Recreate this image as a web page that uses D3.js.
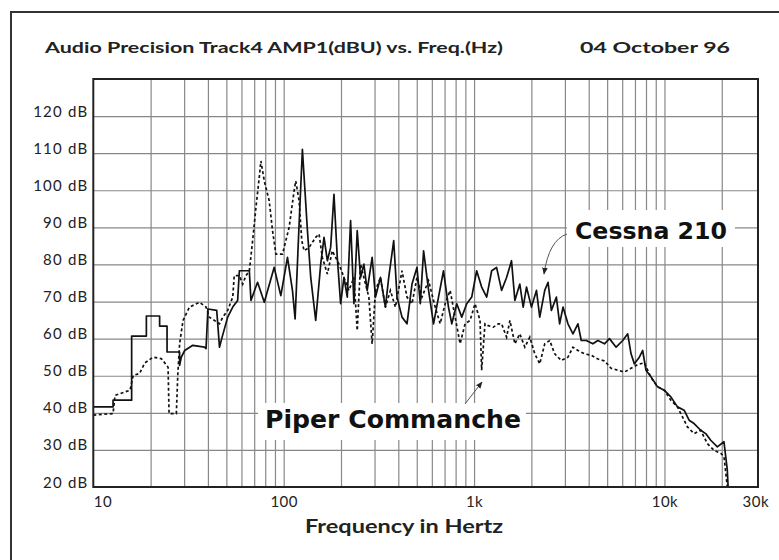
<!DOCTYPE html>
<html>
<head>
<meta charset="utf-8">
<script src="https://d3js.org/d3.v7.min.js"></script>
<style>
  body { margin: 0; background: #fff; }
  svg { display: block; }
  .grid line { stroke: #888; stroke-width: 1.2; }
  .grid path { display: none; }
</style>
</head>
<body>
<div id="chart"></div>
<script>
// Cessna 210 spectrum (solid line) - frequency in Hz, level in dB
const cessnaFreq = [10, 12.7, 12.7, 15.9, 15.9, 19, 19, 22.3, 22.3, 24.4, 24.4, 28.4, 28.4, 29, 30.2, 33.3, 38.4, 39.1,
  40, 44.5, 46, 47.5, 50.8, 54, 57.3, 58.5, 66, 67.3, 72.9, 79.1, 89.1, 96.6, 104.7, 111.2, 114.8, 120.5, 125.4,
  133.3, 138.7, 147.3, 156.5, 162.9, 169.6, 176.5, 183.7, 191.2, 199.1, 207.3, 215.8, 224.6, 233.8, 243.4, 253.3,
  263.7, 274.5, 291.5, 303.5, 322.3, 342.3, 356.3, 378.4, 393.9, 418.3, 444.3, 472, 501.2, 521.8, 543.1, 576.8,
  612.6, 650.5, 691, 733.8, 763.8, 811.3, 861.7, 915.1, 972.1, 1032, 1096, 1165, 1237, 1313, 1395, 1482, 1573,
  1638, 1739, 1811, 1885, 2002, 2127, 2213, 2351, 2447, 2547, 2706, 2815, 2932, 3113, 3307, 3512, 3656, 3883,
  4207, 4469, 4842, 5142, 5572, 6039, 6412, 6676, 6950, 7380, 7682, 7997, 8492, 9203, 9972, 10806, 11708, 12686,
  13472, 14310, 15507, 16468, 17500, 18960, 20540, 21380, 21600];
const cessnaDb = [41.6, 41.6, 43.4, 43.4, 60.7, 60.7, 66.1, 66.1, 63.4, 63.4, 56.4, 56.4, 52.8, 55, 56.8, 58.2, 57.7, 57.3,
  68, 67.6, 57.7, 60.4, 65.8, 68.5, 70.3, 78.3, 78.3, 70.3, 75.2, 69.8, 79.2, 71.6, 81.9, 73.0, 65.3, 90.9, 111.0,
  89.1, 76.5, 64.9, 80.1, 87.3, 81.0, 84.6, 98.9, 81.9, 69.4, 76.5, 71.2, 91.8, 69.4, 89.1, 76.5,
  80.1, 73.0, 81.9, 71.2, 76.5, 68.5, 76.5, 86.4, 71.2, 65.8, 64.0, 74.7, 79.2, 69.4, 83.7, 73.0,
  64.0, 71.2, 78.3, 68.5, 64.0, 69.4, 65.8, 69.4, 71.2, 78.3, 73.9, 71.2, 78.3, 79.2, 73.0, 76.5, 81.0,
  70.3, 74.7, 68.5, 73.9, 68.5, 73.0, 65.8, 73.0, 75.2, 67.6, 71.2, 64.0, 68.5, 64.0, 61.3, 64.0, 59.5, 59.5,
  58.6, 59.5, 58.6, 60.0, 57.7, 59.5, 61.3, 55.9, 53.2, 55.0, 56.8, 51.5, 49.7, 47.0, 46.1, 44.3, 41.6, 40.7,
  38.0, 37.1, 35.3, 34.4, 32.6, 30.8, 32.2, 24.6, 20];

// Piper Commanche spectrum (dashed line)
const piperFreq = [10, 12.7, 13, 15.6, 16.2, 17.5, 18.6, 20.6, 22.8, 24.7, 25, 27.3, 27.8, 28.4, 29.6, 32, 36.1, 39.1,
  40.7, 46, 47.9, 50.8, 54, 55, 58.5, 60.9, 63.4, 66, 68.7, 71.5, 74.4, 75.9, 79.1, 83.9, 87.4, 91, 98.6, 106.8,
  113.4, 115.7, 120.5, 124.5, 128, 136, 147.3, 153.4, 159.6, 169.6, 180, 195.1, 207.3, 220.1, 233.8, 243.4, 253.3,
  263.7, 280.1, 291.5, 303.5, 322.3, 342.3, 363.5, 386.1, 418.3, 444.3, 472, 501.2, 532.4, 576.8, 625, 663.7, 705,
  748.6, 795.4, 844.5, 897, 952.8, 1012, 1075, 1096, 1141, 1188, 1262, 1341, 1395, 1482, 1542, 1638, 1739, 1847,
  1962, 2084, 2213, 2351, 2497, 2652, 2872, 3113, 3307, 3512, 3806, 4124, 4469, 4842, 5246, 5684, 6161, 6676, 7234,
  7838, 8492, 9203, 9972, 10806, 11708, 12434, 13203, 14310, 15507, 16800, 18210, 19740, 20540, 21380];
const piperDb = [39.4, 39.8, 44.7, 46.1, 50.1, 50.6, 53.4, 55.0, 54.6, 52.3, 39.8, 39.8, 50.6, 58.6, 64.9, 68.5, 69.8, 68.5,
  65.8, 64.0, 65.8, 67.6, 71.2, 77.0, 77.0, 74.7, 77.0, 78.3, 86.4, 95.4, 103.4, 107.9, 102.5, 97.2, 89.1, 82.8, 82.8, 90.0,
  99.8, 102.5, 97.2, 86.4, 83.7, 84.6, 87.3, 88.2, 81.9, 77.4, 83.7, 80.1, 76.5, 73.0, 76.5, 62.2, 80.1,
  76.5, 71.2, 58.6, 73.0, 76.5, 68.5, 73.0, 68.5, 78.3, 71.2, 69.4, 76.5, 71.2, 75.6, 68.5, 64.0, 69.4,
  73.0, 65.8, 58.6, 64.0, 64.9, 69.4, 64.9, 51.5, 64.0, 63.5, 63.1, 64.0, 64.0, 60.4, 64.9, 58.6, 61.3, 57.7,
  60.4, 55.9, 53.2, 58.6, 59.5, 55.9, 54.1, 55.0, 57.7, 56.8, 55.9, 55.5, 54.5, 54.0, 52.0, 51.5, 51.0, 52.0, 53.0,
  53.5, 49.5, 47.0, 46.1, 43.4, 41.6, 38.9, 36.2, 34.4, 35.3, 31.7, 29.9, 29.1, 28.2, 20.1];

// Axis values
const yTicks = [20, 30, 40, 50, 60, 70, 80, 90, 100, 110, 120];
const yGrid = [30, 40, 50, 60, 70, 80, 90, 100, 110, 120];
const xGrid = [20, 30, 40, 50, 60, 70, 80, 90, 100, 200, 300, 400, 500, 600, 700, 800, 900,
  1000, 2000, 3000, 4000, 5000, 6000, 7000, 8000, 9000, 10000, 20000];
const xTickValues = [10, 100, 1000, 10000, 30000];
const xTickText = ['10', '100', '1k', '10k', '30k'];

const FONT = 'Lato, "Open Sans", sans-serif';
const LABEL_FONT = '"DejaVu Sans", Lato, sans-serif';
const W = 779, H = 560;
const plotLeft = 93.3, plotRight = 758, plotTop = 79, plotBottom = 487;

const svg = d3.select('#chart').append('svg')
  .attr('width', W)
  .attr('height', H)
  .style('font-family', FONT);

// outer frame (runs off the right / bottom of the picture)
svg.append('rect')
  .attr('x', 11).attr('y', 12)
  .attr('width', 820).attr('height', 620)
  .attr('fill', 'none')
  .attr('stroke', '#333')
  .attr('stroke-width', 2);

const x = d3.scaleLog().domain([10, 31000]).range([plotLeft, plotRight]);
const y = d3.scaleLinear().domain([20, 130]).range([plotBottom, plotTop]);

// grid lines
svg.append('g')
  .attr('class', 'grid')
  .attr('transform', `translate(0,${plotBottom})`)
  .call(d3.axisBottom(x).tickValues(xGrid).tickSize(-(plotBottom - plotTop)).tickFormat(''));

svg.append('g')
  .attr('class', 'grid')
  .attr('transform', `translate(${plotLeft},0)`)
  .call(d3.axisLeft(y).tickValues(yGrid).tickSize(-(plotRight - plotLeft)).tickFormat(''));

// white boxes behind the annotation labels
svg.append('rect').attr('x', 258).attr('y', 403).attr('width', 268).attr('height', 37).attr('fill', '#fff');
svg.append('rect').attr('x', 567).attr('y', 210).attr('width', 168).attr('height', 37).attr('fill', '#fff');

// data lines
const line = d3.line()
  .x(d => x(d[0]))
  .y(d => y(d[1]));

const cessna = cessnaFreq.map((f, i) => [f, cessnaDb[i]]);
const piper = piperFreq.map((f, i) => [f, piperDb[i]]);

svg.append('path')
  .datum(piper)
  .attr('d', line)
  .attr('fill', 'none')
  .attr('stroke', '#111')
  .attr('stroke-width', 1.7)
  .attr('stroke-dasharray', '3,2.5');

svg.append('path')
  .datum(cessna)
  .attr('d', line)
  .attr('fill', 'none')
  .attr('stroke', '#111')
  .attr('stroke-width', 1.7)
  .attr('stroke-linejoin', 'round');

// plot border
svg.append('rect')
  .attr('x', plotLeft).attr('y', plotTop)
  .attr('width', plotRight - plotLeft).attr('height', plotBottom - plotTop)
  .attr('fill', 'none')
  .attr('stroke', '#222')
  .attr('stroke-width', 2);

// y labels
const yAxis = svg.append('g')
  .attr('transform', `translate(${plotLeft},0)`)
  .call(d3.axisLeft(y).tickValues(yTicks).tickSize(0).tickFormat(d => d + ' dB'));
yAxis.select('.domain').remove();
yAxis.selectAll('text')
  .attr('x', -5)
  .attr('dy', '0em')
  .style('font-family', FONT)
  .style('font-size', '15px')
  .style('letter-spacing', '1.2px')
  .attr('fill', '#222');

// x labels
const xAxis = svg.append('g')
  .attr('transform', `translate(0,${plotBottom})`)
  .call(d3.axisBottom(x).tickValues(xTickValues).tickSize(0)
    .tickFormat((d, i) => xTickText[i]));
xAxis.select('.domain').remove();
xAxis.selectAll('text')
  .attr('y', 20)
  .attr('dy', '0em')
  .style('font-family', FONT)
  .style('font-size', '15px')
  .style('letter-spacing', '0.5px')
  .attr('fill', '#222');
xAxis.selectAll('text').filter((d, i) => i === 0).attr('text-anchor', 'start');

// titles
svg.append('text')
  .attr('x', 45).attr('y', 53)
  .attr('textLength', 458)
  .attr('lengthAdjust', 'spacingAndGlyphs')
  .style('font-size', '15px')
  .style('font-weight', 'bold')
  .attr('fill', '#222')
  .text('Audio Precision Track4 AMP1(dBU) vs. Freq.(Hz)');

svg.append('text')
  .attr('x', 580).attr('y', 53)
  .attr('textLength', 150)
  .attr('lengthAdjust', 'spacingAndGlyphs')
  .style('font-size', '15px')
  .style('font-weight', 'bold')
  .attr('fill', '#222')
  .text('04 October 96');

svg.append('text')
  .attr('x', 305).attr('y', 533)
  .attr('textLength', 198)
  .attr('lengthAdjust', 'spacingAndGlyphs')
  .style('font-size', '18px')
  .style('font-weight', 'bold')
  .attr('fill', '#222')
  .text('Frequency in Hertz');

// annotations
svg.append('text')
  .attr('x', 575).attr('y', 239)
  .attr('textLength', 152)
  .attr('lengthAdjust', 'spacingAndGlyphs')
  .style('font-family', LABEL_FONT)
  .style('font-size', '23px')
  .style('font-weight', 'bold')
  .attr('fill', '#111')
  .text('Cessna 210');

svg.append('text')
  .attr('x', 265).attr('y', 428)
  .attr('textLength', 256)
  .attr('lengthAdjust', 'spacingAndGlyphs')
  .style('font-family', LABEL_FONT)
  .style('font-size', '24px')
  .style('font-weight', 'bold')
  .attr('fill', '#111')
  .text('Piper Commanche');

// arrow heads
svg.append('defs').append('marker')
  .attr('id', 'arrow')
  .attr('viewBox', '0 0 10 10')
  .attr('refX', 9).attr('refY', 5)
  .attr('markerWidth', 7).attr('markerHeight', 7)
  .attr('orient', 'auto')
  .append('path')
  .attr('d', 'M0,1 L10,5 L0,9 Z')
  .attr('fill', '#222');

svg.append('path')
  .attr('d', 'M567,234 Q549,240 544,274')
  .attr('fill', 'none')
  .attr('stroke', '#555')
  .attr('stroke-width', 1)
  .attr('marker-end', 'url(#arrow)');

svg.append('path')
  .attr('d', 'M465,404 L482,382')
  .attr('fill', 'none')
  .attr('stroke', '#555')
  .attr('stroke-width', 1)
  .attr('marker-end', 'url(#arrow)');
</script>
</body>
</html>
